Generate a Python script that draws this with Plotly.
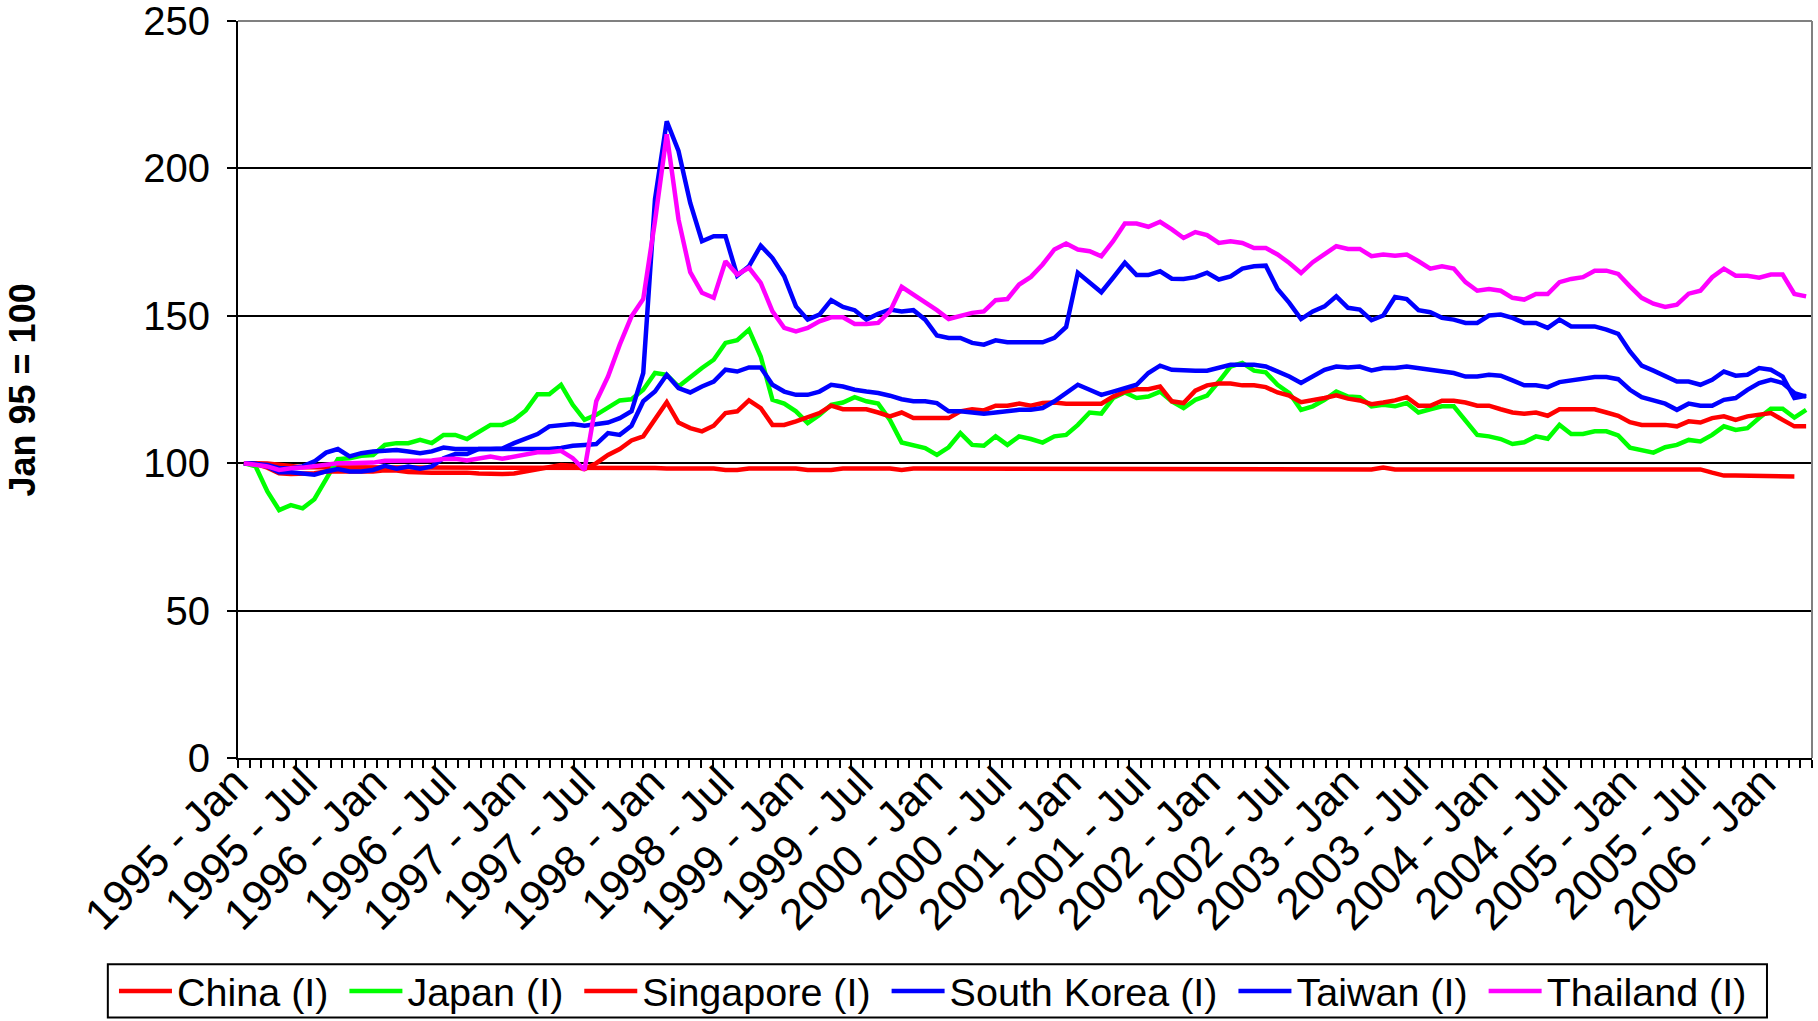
import plotly.graph_objects as go

YEARS = list(range(1995, 2007))
MONTH_NAMES = ["Jan", "Feb", "Mar", "Apr", "May", "Jun", "Jul", "Aug", "Sep", "Oct", "Nov", "Dec"]
N_MONTHS = 134          # data points: Jan 1995 .. Feb 2006
N_AXIS_CATEGORIES = 136  # category slots shown on the axis: Jan 1995 .. Apr 2006
MONTHS = [f"{y} - {m}" for y in YEARS for m in MONTH_NAMES][:N_MONTHS]
AXIS_MONTHS = [f"{y} - {m}" for y in YEARS for m in MONTH_NAMES][:N_AXIS_CATEGORIES]

TICK_LABELS = [
    "1995 - Jan", "1995 - Jul", "1996 - Jan", "1996 - Jul", "1997 - Jan", "1997 - Jul",
    "1998 - Jan", "1998 - Jul", "1999 - Jan", "1999 - Jul", "2000 - Jan", "2000 - Jul",
    "2001 - Jan", "2001 - Jul", "2002 - Jan", "2002 - Jul", "2003 - Jan", "2003 - Jul",
    "2004 - Jan", "2004 - Jul", "2005 - Jan", "2005 - Jul", "2006 - Jan",
]

CHINA = [
    100, 100, 99.9, 99.5, 98.9, 98.6, 98.6, 98.6, 98.6, 98.6, 98.6, 98.6, 98.6, 98.5,
    98.5, 98.5, 98.5, 98.5, 98.5, 98.5, 98.5, 98.5, 98.5, 98.4, 98.4, 98.4, 98.4,
    98.4, 98.4, 98.4, 98.4, 98.4, 98.4, 98.4, 98.4, 98.4, 98.2, 98.2, 98.2, 98.2, 98.2,
    97.7, 97.7, 98.2, 98.2, 98.2, 98.2, 98.2, 97.7, 97.7, 97.7, 98.2, 98.2, 98.2,
    98.2, 98.2, 97.7, 98.2, 98.2, 98.2, 97.9, 97.9, 97.9, 97.9, 97.9, 97.9, 97.9,
    97.9, 97.9, 97.9, 97.9, 97.9, 97.9, 97.9, 97.9, 97.9, 97.9, 97.9, 97.9, 97.9,
    97.9, 97.9, 97.9, 97.9, 97.9, 97.9, 97.9, 97.9, 97.9, 97.9, 97.9, 97.9, 97.9,
    97.9, 97.9, 97.9, 97.9, 98.5, 97.9, 97.9, 97.9, 97.9, 97.9, 97.9, 97.9, 97.9, 97.9,
    97.9, 97.9, 97.9, 97.9, 97.9, 97.9, 97.9, 97.9, 97.9, 97.9, 97.9, 97.9, 97.9,
    97.9, 97.9, 97.9, 97.9, 97.9, 96.8, 95.8, 95.8, 95.8, 95.8, 95.8, 95.5, 95.5,
]

JAPAN = [
    100, 98.9, 90.4, 84.1, 85.8, 84.7, 87.8, 94.3, 101.4, 101.7, 102.5, 102.8, 106.2,
    106.8, 106.8, 107.9, 106.8, 109.6, 109.6, 108.2, 110.8, 113.0, 113.0, 114.7, 117.9,
    123.4, 123.4,
    126.6, 119.8, 114.7, 116.4, 118.7, 121.3, 121.7, 124.9, 130.6, 130.0, 126.0, 129.2,
    132.3, 135.1, 140.8, 141.7, 145.3, 136.2, 121.5, 120.2, 117.6, 113.6, 116.4, 119.8,
    120.6, 122.4, 121.0,
    120.2, 114.7, 107.0, 106.2, 105.1, 102.8, 105.4, 110.2, 106.2, 105.9, 109.1, 106.2,
    109.1, 108.2, 107.0, 109.1, 109.6, 113.0, 117.2, 116.8, 122.1, 124.0, 122.1, 122.6,
    124.3, 121.0,
    118.7, 121.5, 122.9, 127.7, 132.8, 134.0, 131.4, 130.8, 126.6, 123.8, 118.1, 119.3,
    121.5, 124.3, 122.6, 122.4, 119.3, 119.8, 119.3, 120.4, 117.2, 118.3, 119.3, 119.3,
    114.7, 109.6, 109.1,
    108.2, 106.5, 107.1, 109.1, 108.3, 113.0, 109.9, 109.9, 110.8, 110.8, 109.4, 105.3,
    104.3, 103.6, 105.4, 106.2, 107.9, 107.4, 109.6, 112.5, 111.3, 111.9, 115.3, 118.5,
    118.5, 115.5, 118.1,
]

SINGAPORE = [
    100, 99.8, 98.5, 96.6, 96.3, 96.3, 96.6, 97.2, 97.2, 97.0, 97.0, 97.2, 97.6, 97.5,
    97.0, 96.8, 96.8, 96.8, 96.9, 96.8, 96.5, 96.3, 96.3, 96.5, 97.2, 98.0, 98.6,
    99.4, 99.1, 98.0, 100.0, 102.8, 104.8, 107.7, 109.1, 114.7, 120.7, 113.8, 111.9,
    110.8, 112.7, 117.0, 117.6, 121.3, 118.7, 113.0, 113.0, 114.2, 115.6, 117.0, 119.5,
    118.3, 118.3, 118.3,
    117.2, 115.9, 117.2, 115.3, 115.3, 115.3, 115.3, 117.6, 118.3, 117.9, 119.5, 119.5,
    120.2, 119.5, 120.4, 120.6, 120.2, 120.2, 120.2, 120.2, 122.6, 124.3, 125.1, 125.1,
    126.0, 121.0,
    120.4, 124.6, 126.4, 127.0, 127.0, 126.4, 126.4, 125.8, 124.0, 122.9, 120.7, 121.3,
    122.1, 123.0, 121.9, 121.3, 120.0, 120.6, 121.3, 122.4, 119.5, 119.5, 121.2, 121.2,
    120.6, 119.5, 119.5,
    118.3, 117.2, 116.8, 117.2, 116.1, 118.3, 118.3, 118.3, 118.3, 117.2, 116.1, 113.9,
    113.0, 113.0, 113.0, 112.5, 114.2, 113.8, 115.3, 115.9, 114.7, 115.9, 116.4, 117.0,
    114.7, 112.5, 112.5,
]

SOUTH_KOREA = [
    100, 99.8, 98.9, 96.9, 96.9, 96.6, 96.1, 97.2, 98.0, 97.2, 97.2, 97.7, 99.1, 98.1,
    98.9, 98.1, 98.9, 101.7, 103.1, 103.1, 104.8, 104.8, 105.0, 106.8, 108.2, 109.9, 112.5,
    113.0, 113.3, 112.7, 113.3, 113.8, 115.3, 117.6, 130.6, 189.5, 216.0, 205.9, 188.3,
    175.3, 177.0, 177.0, 163.6, 166.8, 173.8, 169.6, 163.4, 153.2, 148.7, 150.4, 155.3,
    153.0, 151.9, 148.7,
    150.7, 152.1, 151.5, 151.9, 148.7, 143.3, 142.5, 142.5, 140.8, 140.2, 141.7, 141.0,
    141.0, 141.0, 141.0, 142.5, 146.2, 164.6, 161.2, 158.0, 162.9, 168.0, 163.8, 163.8,
    165.1, 162.6,
    162.5, 163.1, 164.6, 162.3, 163.4, 166.0, 166.8, 167.0, 159.1, 154.4, 148.9, 151.5,
    153.2, 156.6, 152.7, 152.1, 148.5, 150.1, 156.4, 155.7, 151.9, 151.2, 149.3, 148.7,
    147.6, 147.6, 150.1,
    150.4, 149.3, 147.6, 147.6, 145.9, 148.7, 146.4, 146.4, 146.4, 145.3, 143.9, 137.9,
    133.1, 131.4, 129.7, 127.7, 127.7, 126.6, 128.3, 131.1, 129.7, 130.0, 132.3, 131.7,
    129.4, 122.1, 122.9,
]

TAIWAN = [
    100, 99.8, 99.4, 98.3, 98.3, 98.9, 100.6, 103.6, 104.8, 102.3, 103.4, 104.0, 104.2,
    104.5, 104.0, 103.4, 104.0, 105.3, 104.8, 104.8, 104.8, 104.8, 104.8, 104.8, 104.8,
    104.8, 104.8,
    105.2, 105.9, 106.2, 106.5, 110.2, 109.6, 112.7, 121.0, 124.3, 130.0, 125.5, 124.0,
    126.0, 127.7, 131.7, 131.1, 132.5, 132.5, 126.6, 124.3, 123.2, 123.2, 124.3, 126.6,
    126.0, 124.9, 124.3,
    123.8, 122.9, 121.7, 121.0, 121.0, 120.4, 117.6, 117.6, 117.2, 116.8, 117.2, 117.6,
    118.1, 118.1, 118.7, 121.0, 123.6, 126.6, 124.9, 123.2, 124.3, 125.5, 126.6, 130.6,
    133.1, 131.7,
    131.4, 131.4, 131.4, 132.3, 133.4, 133.4, 133.4, 132.8, 131.1, 129.4, 127.2, 129.4,
    131.7, 132.8, 132.5, 132.8, 131.5, 132.3, 132.3, 132.8, 132.3, 131.7, 131.1, 130.6,
    129.4, 129.4, 130.0,
    129.7, 128.1, 126.4, 126.4, 125.8, 127.5, 128.1, 128.5, 129.2, 129.2, 128.5, 124.9,
    122.4, 121.3, 120.2, 118.1, 120.2, 119.5, 119.5, 121.5, 122.1, 124.9, 127.2, 128.3,
    127.2, 123.8, 122.6,
]

THAILAND = [
    100, 99.4, 98.9, 97.7, 98.3, 98.5, 99.1, 99.4, 100.0, 100.0, 100.0, 100.2, 100.8,
    100.9, 100.9, 100.9, 100.9, 101.4, 101.5, 100.9, 101.6, 102.3, 101.5, 102.3, 102.8,
    103.7, 103.7,
    104.2, 101.7, 97.7, 121.0, 129.4, 140.2, 149.8, 155.7, 182.1, 211.6, 182.7, 164.8,
    157.8, 156.1, 168.5, 164.0, 166.3, 161.2, 151.5, 145.9, 144.7, 145.9, 148.1, 149.5,
    149.5, 147.2, 147.2,
    147.6, 151.5, 159.8, 157.2, 154.6, 151.9, 148.9, 150.1, 151.0, 151.5, 155.3, 155.7,
    160.6, 163.2, 167.4, 172.5, 174.5, 172.5, 171.9, 170.2, 175.3, 181.3, 181.3, 180.2,
    181.9, 179.3,
    176.4, 178.4, 177.4, 174.7, 175.3, 174.7, 173.0, 173.0, 170.8, 167.9, 164.5, 168.2,
    170.8, 173.6, 172.7, 172.7, 170.2, 170.8, 170.4, 170.8, 168.5, 166.0, 166.8, 166.0,
    161.4, 158.5, 159.1,
    158.5, 156.1, 155.5, 157.4, 157.4, 161.4, 162.5, 163.1, 165.3, 165.3, 164.2, 160.0,
    156.1, 154.1, 153.0, 153.8, 157.5, 158.5, 163.1, 166.0, 163.6, 163.6, 162.9, 164.0,
    164.0, 157.4, 156.6,
]

SERIES = [
    ("China (I)", CHINA, "#FF0000"),
    ("Japan (I)", JAPAN, "#00FF00"),
    ("Singapore (I)", SINGAPORE, "#FF0000"),
    ("South Korea (I)", SOUTH_KOREA, "#0000FF"),
    ("Taiwan (I)", TAIWAN, "#0000FF"),
    ("Thailand (I)", THAILAND, "#FF00FF"),
]

# data points sit at integer positions; the axis labels follow the 136 category slots
X_POS = list(range(len(MONTHS)))
SLOT = len(MONTHS) / len(AXIS_MONTHS)
TICK_POS = [-0.5 + (AXIS_MONTHS.index(t) + 0.5) * SLOT for t in TICK_LABELS]

FONT = "Liberation Sans, Arial, sans-serif"
NBSP = "\u00a0"

fig = go.Figure()
for k, (name, vals, color) in enumerate(SERIES):
    legend_name = name + (NBSP if k < len(SERIES) - 1 else "")
    fig.add_trace(go.Scatter(
        x=X_POS, y=vals, name=legend_name, mode="lines",
        line=dict(color=color, width=4.5),
        customdata=MONTHS,
        hovertemplate="%{customdata}: %{y}<extra>" + name + "</extra>",
    ))

fig.update_layout(
    width=1818, height=1021,
    margin=dict(l=238, r=6, t=21, b=263, autoexpand=False),
    paper_bgcolor="white", plot_bgcolor="white",
    font=dict(family=FONT, color="black"),
    showlegend=True,
    legend=dict(
        orientation="h", x=-0.0788, xanchor="left", y=-0.2725, yanchor="top",
        font=dict(size=39.5, family=FONT, color="black"),
        borderwidth=0, bgcolor="rgba(0,0,0,0)",
        itemwidth=53, tracegroupgap=0,
    ),
    xaxis=dict(
        range=[-0.5, len(MONTHS) - 0.5], automargin=False,
        tickmode="array", tickvals=TICK_POS, ticktext=TICK_LABELS,
        tickangle=-45, ticks="", tickfont=dict(size=44, family=FONT, color="black"),
        ticklabelshift=-9, ticklabelstandoff=-21, ticklabeloverflow="allow",
        showgrid=False, zeroline=False,
        showline=True, linecolor="black", linewidth=2,
        minor=dict(tickmode="linear", tick0=-0.5, dtick=SLOT, ticks="outside",
                   ticklen=8, tickwidth=1.5, tickcolor="black", showgrid=False),
    ),
    yaxis=dict(
        range=[0, 250], tickmode="linear", tick0=0, dtick=50, automargin=False,
        ticks="outside", ticklen=9, tickwidth=1.5, tickcolor="black",
        tickfont=dict(size=40, family=FONT, color="black"), ticklabelstandoff=9,
        ticklabeloverflow="allow",
        showgrid=True, gridcolor="black", gridwidth=1.5,
        zeroline=False, showline=True, linecolor="black", linewidth=2,
    ),
    annotations=[
        dict(text="<b>Jan 95 = 100</b>", xref="paper", yref="paper",
             x=-0.1366, y=0.5, xanchor="center", yanchor="middle",
             textangle=-90, showarrow=False,
             font=dict(size=36, family=FONT, color="black")),
    ],
    shapes=[
        # plot-area border (top and right edges in grey)
        dict(type="line", xref="paper", yref="paper", x0=0, x1=1, y0=1, y1=1,
             line=dict(color="#808080", width=2), layer="above"),
        dict(type="line", xref="paper", yref="paper", x0=1, x1=1, y0=0, y1=1,
             line=dict(color="#808080", width=2), layer="above"),
        # legend frame
        dict(type="rect", xref="paper", yref="paper",
             x0=-0.0827, x1=0.9714, y0=-0.3522, y1=-0.2798,
             line=dict(color="black", width=2), fillcolor="rgba(0,0,0,0)",
             layer="below"),
    ],
)

fig.write_html(
    "out.html",
    config={"displayModeBar": False},
    post_script="document.body.style.margin='0';document.body.style.padding='0';",
)
